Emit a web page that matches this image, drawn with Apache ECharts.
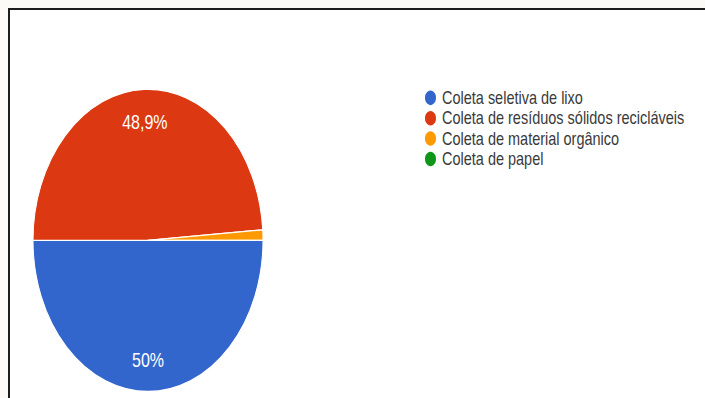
<!DOCTYPE html>
<html>
<head>
<meta charset="utf-8">
<script src="https://cdn.jsdelivr.net/npm/echarts@6/dist/echarts.min.js"></script>
<style>
  html, body { margin: 0; padding: 0; background: #fbfaf7; }
  #frame {
    position: absolute; left: 8px; top: 8px; width: 697px; height: 390px;
    border-left: 2px solid #1c1c1c; border-top: 2px solid #1c1c1c;
    background: #ffffff; box-sizing: border-box;
  }
  #chart {
    position: absolute; left: 0; top: 0; width: 705px; height: 303px;
    transform: scaleY(1.3135); transform-origin: 0 0;
  }
</style>
</head>
<body>
<div id="frame"></div>
<div id="chart"></div>
<script>
// Survey answers (number of responses per option)
const categories = [
  'Coleta seletiva de lixo',
  'Coleta de resíduos sólidos recicláveis',
  'Coleta de material orgânico',
  'Coleta de papel'
];
const responses = [45, 44, 1, 0];
const sliceColors = ['#3366cc', '#dc3912', '#ff9900', '#109618'];

const total = responses.reduce((a, b) => a + b, 0);
const pieData = categories.map((name, i) => ({ name: name, value: responses[i] }));

// Percent text in pt-BR style: one decimal, comma separator, no trailing ",0"
function pctText(v) {
  const p = Math.round(v / total * 1000) / 10;
  return (Number.isInteger(p) ? String(p) : p.toFixed(1)).replace('.', ',') + '%';
}

const chart = echarts.init(document.getElementById('chart'), null, { renderer: 'svg' });
const center = [148, 183];
chart.setOption({
  animation: false,
  color: sliceColors,
  legend: {
    orient: 'vertical',
    left: 418,
    top: 62,
    icon: 'circle',
    itemWidth: 13,
    itemHeight: 13,
    itemGap: 0.5,
    textStyle: {
      fontFamily: 'Liberation Sans, Arial, sans-serif',
      fontSize: 14.5,
      color: '#3a3a3a'
    },
    data: categories
  },
  series: [
    {
      type: 'pie',
      center: center,
      radius: [0, 115],
      startAngle: 0,
      clockwise: true,
      silent: true,
      label: { show: false },
      labelLine: { show: false },
      itemStyle: { borderColor: '#ffffff', borderWidth: 1 },
      data: pieData
    },
    {
      // transparent ring that only carries the percentage labels
      type: 'pie',
      center: center,
      radius: [60, 115],
      startAngle: 0,
      clockwise: true,
      silent: true,
      itemStyle: { color: 'rgba(0,0,0,0)', borderWidth: 0 },
      labelLine: { show: false },
      label: {
        show: true,
        position: 'inside',
        color: '#ffffff',
        fontFamily: 'Liberation Sans, Arial, sans-serif',
        fontSize: 16,
        formatter: p => (p.value / total >= 0.05 ? pctText(p.value) : '')
      },
      data: pieData
    }
  ]
});
</script>
</body>
</html>
